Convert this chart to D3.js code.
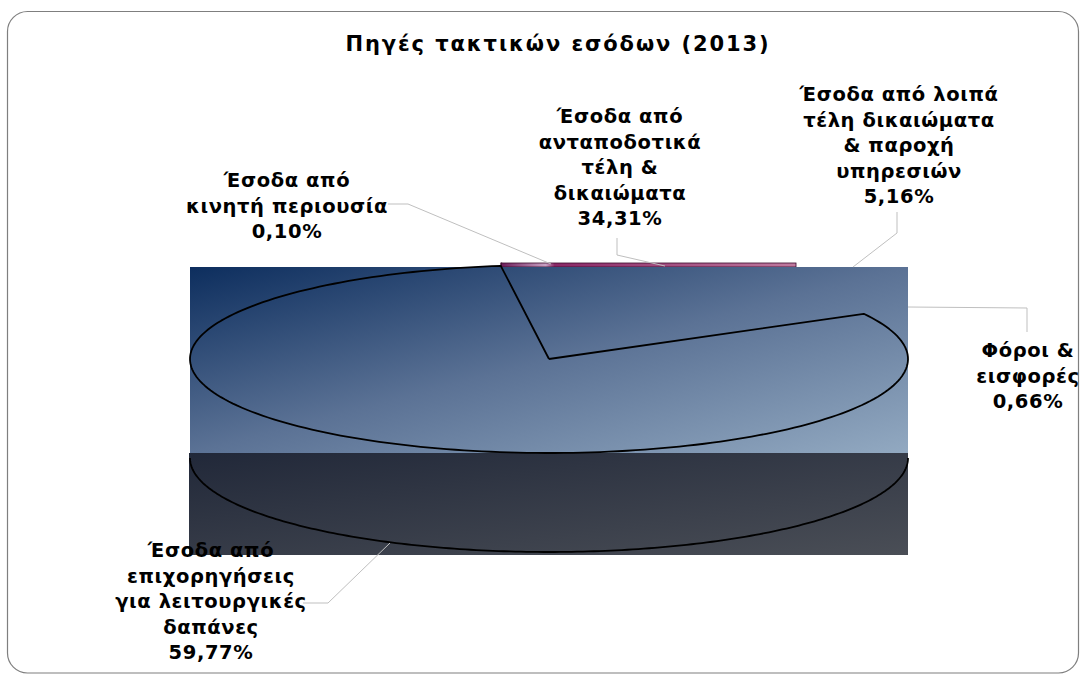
<!DOCTYPE html>
<html>
<head>
<meta charset="utf-8">
<script src="https://cdnjs.cloudflare.com/ajax/libs/d3/7.8.5/d3.min.js"></script>
<style>
  body { margin: 0; background: #fff; }
  text { font-family: "DejaVu Sans", Verdana, sans-serif; font-weight: bold; fill: #000; }
</style>
</head>
<body>
<div id="chart"></div>
<script>
// data
var chartTitle = "Πηγές τακτικών εσόδων (2013)";
var categories = [
    "Έσοδα από κινητή περιουσία",
    "Έσοδα από ανταποδοτικά τέλη & δικαιώματα",
    "Έσοδα από λοιπά τέλη δικαιώματα & παροχή υπηρεσιών",
    "Φόροι & εισφορές",
    "Έσοδα από επιχορηγήσεις για λειτουργικές δαπάνες"
];
var shares = [0.10, 34.31, 5.16, 0.66, 59.77];
// how each label wraps in the picture
var labelLines = [
    ["Έσοδα από", "κινητή περιουσία"],
    ["Έσοδα από", "ανταποδοτικά", "τέλη &", "δικαιώματα"],
    ["Έσοδα από λοιπά", "τέλη δικαιώματα", "& παροχή", "υπηρεσιών"],
    ["Φόροι &", "εισφορές"],
    ["Έσοδα από", "επιχορηγήσεις", "για λειτουργικές", "δαπάνες"]
];

// layout
var svgWidth = 1083;
var svgHeight = 693;
var cx = 549, cy = 359, rx = 359, ry = 94, depth = 99;
var warp = 0.33;               // perspective squeeze of the back of the pie
var startDeg = -23.1;
var lineHeight = 25.6;
var labelPos = [
    {x: 287, y: 187, leader: [[388, 204], [408, 204], [551, 264]]},
    {x: 620, y: 123, leader: [[617, 238], [617, 255], [665, 266]]},
    {x: 899, y: 101, leader: [[897, 212], [897, 233], [853, 267]]},
    {x: 1028, y: 357, leader: [[908, 307], [1027, 308], [1027, 332]]},
    {x: 211, y: 557, leader: [[303, 603], [328, 603], [390, 543]]}
];

var svg = d3.select("#chart")
    .append("svg")
    .attr("width", svgWidth)
    .attr("height", svgHeight);

var defs = svg.append("defs");

function addGradient(id, stops, x2, y2) {
    var g = defs.append("linearGradient")
        .attr("id", id)
        .attr("x1", 0).attr("y1", 0)
        .attr("x2", x2).attr("y2", y2);
    stops.forEach(function (s) {
        g.append("stop").attr("offset", s[0]).attr("stop-color", s[1]);
    });
}
addGradient("blueGrad", [[0, "#0d2e5e"], [0.5, "#5b7295"], [1, "#92a9c1"]], 1, 1);
addGradient("darkGrad", [[0, "#212839"], [1, "#4a4e56"]], 1, 1);
addGradient("pinkGrad", [[0, "#6e1d5a"], [0.15, "#c9a2c4"], [0.18, "#8a2866"], [1, "#c07a9f"]], 1, 0);

// frame
svg.append("rect")
    .attr("x", 7.5)
    .attr("y", 11.5)
    .attr("width", 1071)
    .attr("height", 661.5)
    .attr("rx", 20)
    .attr("fill", "#fff")
    .attr("stroke", "#7f7f7f")
    .attr("stroke-width", 1.2);

svg.append("text")
    .attr("x", 558)
    .attr("y", 51)
    .attr("text-anchor", "middle")
    .attr("font-size", "21px")
    .attr("letter-spacing", "1.9px")
    .text(chartTitle);

// pie angles, then the 3D look squeezes the back
var pie = d3.pie()
    .sort(null)
    .value(d => d)
    .startAngle(startDeg * Math.PI / 180)
    .endAngle(startDeg * Math.PI / 180 + 2 * Math.PI);
var arcs = pie(shares);

function screenAngle(t) {
    return 2 * Math.atan2(warp * Math.sin(t / 2), Math.cos(t / 2));
}
function pt(phi, dy) {
    return [cx + rx * Math.sin(phi), cy + (dy || 0) - ry * Math.cos(phi)];
}

// back slices only show as a thin strip above the plot box
var backArcs = arcs.slice(0, 2);
svg.append("g")
    .selectAll("rect")
    .data(backArcs)
    .enter()
    .append("rect")
    .attr("x", d => pt(screenAngle(d.startAngle))[0])
    .attr("y", 263)
    .attr("width", d => Math.max(1, pt(screenAngle(d.endAngle))[0] - pt(screenAngle(d.startAngle))[0]))
    .attr("height", 4)
    .attr("fill", "url(#pinkGrad)")
    .attr("stroke", "#3b0a2c")
    .attr("stroke-width", 0.8);

// plot boxes
svg.append("rect")
    .attr("x", 190).attr("y", 267)
    .attr("width", 718).attr("height", 186)
    .attr("fill", "url(#blueGrad)");
svg.append("rect")
    .attr("x", 189).attr("y", 453)
    .attr("width", 719).attr("height", 102)
    .attr("fill", "url(#darkGrad)");

// outline of the big front slice
var main = arcs[4];
var a0 = screenAngle(main.startAngle);
var a1 = screenAngle(main.endAngle);
if (a1 < a0) a1 += 2 * Math.PI;
var topPts = [[cx, cy]];
d3.range(0, 201).forEach(function (i) {
    topPts.push(pt(a0 + (a1 - a0) * i / 200));
});
topPts.push([cx, cy]);

var line = d3.line();
svg.append("path")
    .attr("d", line(topPts))
    .attr("fill", "none")
    .attr("stroke", "#000")
    .attr("stroke-width", 1.8)
    .attr("stroke-linejoin", "round");

var frontPts = d3.range(0, 201).map(function (i) {
    return pt(Math.PI / 2 + Math.PI * i / 200, depth);
});
svg.append("path")
    .attr("d", line(frontPts))
    .attr("fill", "none")
    .attr("stroke", "#000")
    .attr("stroke-width", 1.8);

// leader lines
svg.append("g")
    .selectAll("path")
    .data(labelPos)
    .enter()
    .append("path")
    .attr("d", d => line(d.leader))
    .attr("fill", "none")
    .attr("stroke", "#bfbfbf")
    .attr("stroke-width", 1);

// labels
var fmt = d3.format(".2f");
var labels = svg.append("g")
    .selectAll("text")
    .data(arcs)
    .enter()
    .append("text")
    .attr("text-anchor", "middle")
    .attr("font-size", "19.5px")
    .attr("letter-spacing", "0.6px");

labels.each(function (d, i) {
    var lines = labelLines[i].concat([fmt(d.data).replace(".", ",") + "%"]);
    var t = d3.select(this);
    lines.forEach(function (s, j) {
        t.append("tspan")
            .attr("x", labelPos[i].x)
            .attr("y", labelPos[i].y + j * lineHeight)
            .text(s);
    });
});
</script>
</body>
</html>
